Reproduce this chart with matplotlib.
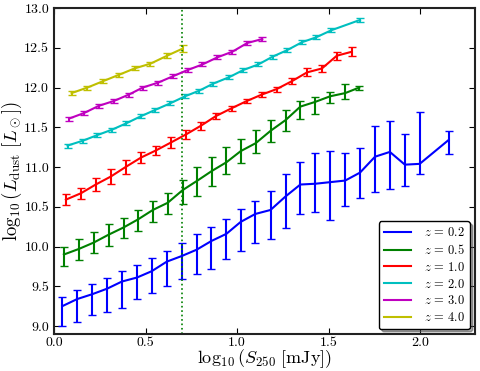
import numpy as np
import matplotlib
matplotlib.use('Agg')
import matplotlib.pyplot as plt

plt.rcParams['font.family'] = 'serif'
plt.rcParams['font.serif'] = ['cmr10', 'DejaVu Serif']
plt.rcParams['mathtext.fontset'] = 'cm'
plt.rcParams['axes.unicode_minus'] = False

# z = 0.2 (asymmetric errors: upper / lower bounds)
x_02 = [0.045, 0.127, 0.208, 0.29, 0.371, 0.453, 0.534, 0.616, 0.697, 0.779, 0.86, 0.942, 1.02,
        1.10, 1.183, 1.265, 1.346, 1.428, 1.509, 1.591, 1.672, 1.754, 1.835, 1.917, 1.998, 2.156]
y_02 = [9.25, 9.34, 9.40, 9.47, 9.56, 9.61, 9.69, 9.81, 9.88, 9.96, 10.07, 10.16, 10.31,
        10.41, 10.46, 10.63, 10.78, 10.79, 10.81, 10.83, 10.93, 11.13, 11.19, 11.03, 11.04, 11.34]
hi_02 = [9.37, 9.45, 9.53, 9.60, 9.69, 9.77, 9.86, 9.94, 10.04, 10.16, 10.25, 10.35, 10.47,
         10.57, 10.70, 10.91, 11.06, 11.18, 11.20, 11.18, 11.24, 11.52, 11.58, 11.41, 11.69, 11.45]
lo_02 = [9.0, 9.05, 9.14, 9.18, 9.23, 9.34, 9.42, 9.50, 9.59, 9.66, 9.72, 9.84, 9.94,
         10.05, 10.09, 10.23, 10.41, 10.43, 10.34, 10.51, 10.61, 10.69, 10.72, 10.76, 10.91, 11.16]

# z = 0.5
x_05 = [0.054, 0.136, 0.217, 0.299, 0.380, 0.458, 0.540, 0.621, 0.703, 0.784, 0.862, 0.942,
        1.02, 1.102, 1.183, 1.265, 1.346, 1.428, 1.509, 1.591, 1.668]
y_05 = [9.90, 9.97, 10.05, 10.15, 10.24, 10.34, 10.46, 10.55, 10.71, 10.83, 10.95, 11.06,
        11.20, 11.30, 11.455, 11.59, 11.76, 11.82, 11.89, 11.93, 12.0]
hi_05 = [10.0, 10.09, 10.18, 10.28, 10.36, 10.46, 10.57, 10.67, 10.84, 11.0, 11.12, 11.25,
         11.35, 11.46, 11.59, 11.72, 11.83, 11.88, 11.95, 12.05, 12.02]
lo_05 = [9.75, 9.83, 9.92, 10.01, 10.11, 10.20, 10.31, 10.41, 10.53, 10.64, 10.76, 10.91,
         11.05, 11.18, 11.32, 11.45, 11.60, 11.67, 11.81, 11.86, 11.97]

# z = 1.0
x_10 = [0.065, 0.147, 0.228, 0.31, 0.391, 0.476, 0.558, 0.64, 0.721, 0.803, 0.884, 0.971,
        1.053, 1.134, 1.216, 1.30, 1.382, 1.464, 1.545, 1.627]
y_10 = [10.59, 10.67, 10.78, 10.88, 11.00, 11.12, 11.21, 11.31, 11.41, 11.52, 11.64, 11.74,
        11.83, 11.91, 11.98, 12.08, 12.19, 12.24, 12.40, 12.45]
e_10 = [0.065, 0.07, 0.08, 0.095, 0.09, 0.07, 0.06, 0.07, 0.055, 0.05, 0.04, 0.03,
        0.03, 0.03, 0.03, 0.04, 0.05, 0.04, 0.05, 0.055]

# z = 2.0
x_20 = [0.074, 0.156, 0.235, 0.317, 0.395, 0.476, 0.554, 0.634, 0.716, 0.793, 0.871, 0.957,
        1.034, 1.116, 1.196, 1.274, 1.355, 1.431, 1.515, 1.672]
y_20 = [11.27, 11.33, 11.40, 11.47, 11.55, 11.64, 11.72, 11.80, 11.89, 11.96, 12.05, 12.13,
        12.22, 12.29, 12.39, 12.47, 12.57, 12.63, 12.72, 12.85]
e_20 = [0.025] * 20

# z = 3.0
x_30 = [0.083, 0.165, 0.245, 0.326, 0.408, 0.485, 0.567, 0.648, 0.730, 0.811, 0.893, 0.974,
        1.056, 1.138]
y_30 = [11.61, 11.68, 11.77, 11.83, 11.91, 12.0, 12.06, 12.14, 12.22, 12.29, 12.38, 12.45,
        12.56, 12.61]
e_30 = [0.025] * 14

# z = 4.0
x_40 = [0.096, 0.183, 0.268, 0.355, 0.44, 0.527, 0.618, 0.703]
y_40 = [11.93, 12.0, 12.08, 12.16, 12.24, 12.30, 12.40, 12.49]
e_40 = [0.03, 0.025, 0.025, 0.025, 0.025, 0.025, 0.03, 0.04]

s_cut = np.log10(5.0)

fig = plt.figure(figsize=(4.8, 3.71), dpi=100)
ax = fig.add_axes([0.1125, 0.0997, 0.877, 0.8787])

kw = dict(capsize=3, lw=1.5, elinewidth=1.5, capthick=1)

def plot_asym(x, y, lo, hi, c, lab):
    y = np.array(y)
    yerr = [y - np.array(lo), np.array(hi) - y]
    ax.errorbar(x, y, yerr=yerr, color=c, label=lab, **kw)

plot_asym(x_02, y_02, lo_02, hi_02, (0, 0, 1), r'$z\,=\,0.2$')
plot_asym(x_05, y_05, lo_05, hi_05, (0, 0.5, 0), r'$z\,=\,0.5$')
ax.errorbar(x_10, y_10, yerr=e_10, color=(1, 0, 0), label=r'$z\,=\,1.0$', **kw)
ax.errorbar(x_20, y_20, yerr=e_20, color=(0, 0.75, 0.75), label=r'$z\,=\,2.0$', **kw)
ax.errorbar(x_30, y_30, yerr=e_30, color=(0.75, 0, 0.75), label=r'$z\,=\,3.0$', **kw)
ax.errorbar(x_40, y_40, yerr=e_40, color=(0.75, 0.75, 0), label=r'$z\,=\,4.0$', **kw)

ax.axvline(s_cut, color=(0, 0.5, 0), ls=':', lw=1.2)

ax.set_xlim(0, 2.3)
ax.set_ylim(8.9, 13.0)
ax.set_xticks([0.0, 0.5, 1.0, 1.5, 2.0])
ax.set_yticks(np.arange(9.0, 13.01, 0.5))
ax.set_xticklabels(['0.0', '0.5', '1.0', '1.5', '2.0'])
ax.set_yticklabels(['%.1f' % v for v in np.arange(9.0, 13.01, 0.5)])
ax.tick_params(direction='in', top=True, right=True, labelsize=10, length=4)
ax.tick_params(axis='x', pad=2)
for sp in ax.spines.values():
    sp.set_linewidth(1.5)
    sp.set_color('#222222')

ax.set_xlabel(r'$\log_{10}(S_{250}\ [\mathrm{mJy}])$', fontsize=13, labelpad=-1)
ax.set_ylabel(r'$\log_{10}(L_{\rm dust}\ [L_\odot])$', fontsize=13.5, labelpad=0)

handles, labels = ax.get_legend_handles_labels()
handles = [h[0] for h in handles]
leg = ax.legend(handles, labels, loc='lower right', fontsize=9, shadow=True,
                fancybox=True, framealpha=1, handlelength=2.2, labelspacing=0.3,
                borderaxespad=0.4, handletextpad=1.0)
leg.get_frame().set_edgecolor('black')
leg.get_frame().set_linewidth(1.0)

fig.savefig('out.png', dpi=100)
